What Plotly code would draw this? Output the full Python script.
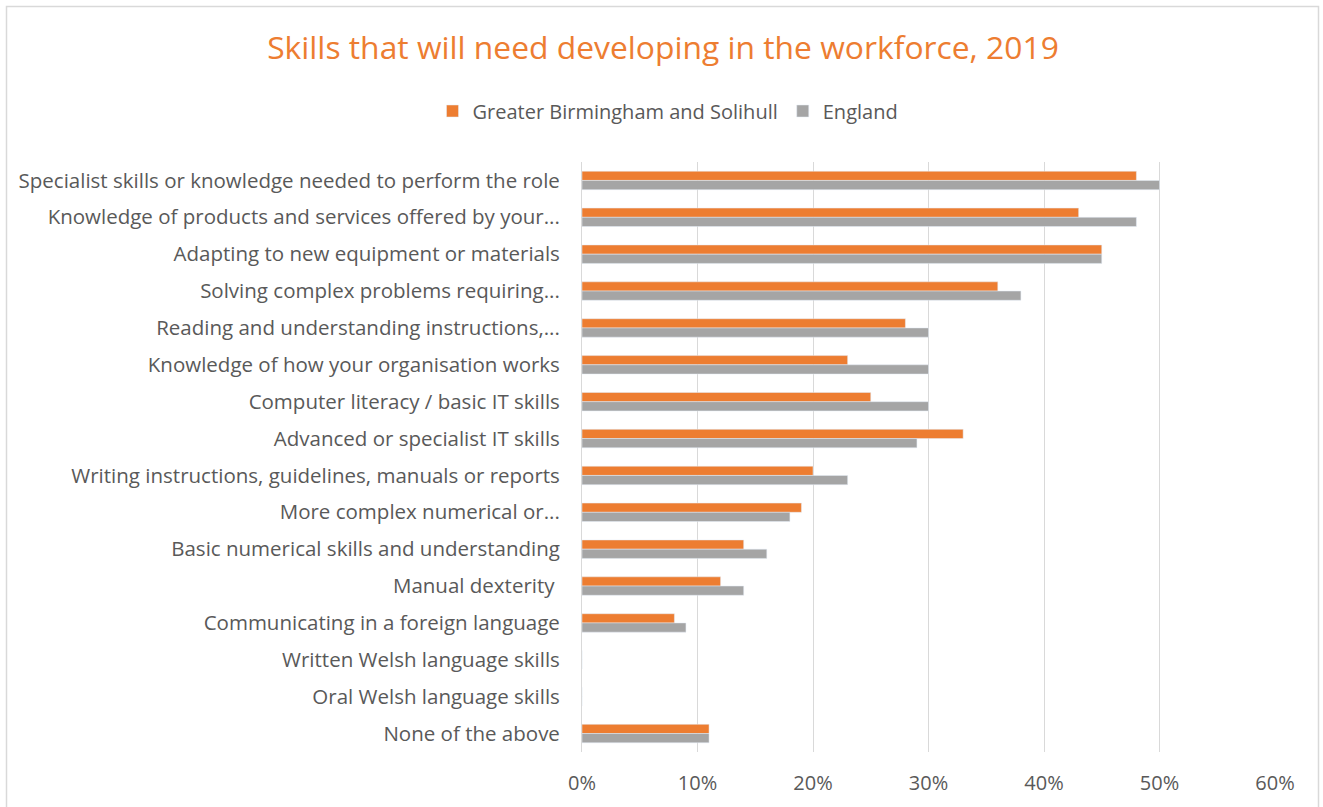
import plotly.graph_objects as go

# Skill categories, top to bottom
categories = [
    "Specialist skills or knowledge needed to perform the role",
    "Knowledge of products and services offered by your...",
    "Adapting to new equipment or materials",
    "Solving complex problems requiring...",
    "Reading and understanding instructions,...",
    "Knowledge of how your organisation works",
    "Computer literacy / basic IT skills",
    "Advanced or specialist IT skills",
    "Writing instructions, guidelines, manuals or reports",
    "More complex numerical or...",
    "Basic numerical skills and understanding",
    "Manual dexterity ",
    "Communicating in a foreign language",
    "Written Welsh language skills",
    "Oral Welsh language skills",
    "None of the above",
]

# Share of employers (fraction)
gbs_values = [0.48, 0.43, 0.45, 0.36, 0.28, 0.23, 0.25, 0.33, 0.20, 0.19, 0.14, 0.12, 0.08, 0.0, 0.0, 0.11]
england_values = [0.50, 0.48, 0.45, 0.38, 0.30, 0.30, 0.30, 0.29, 0.23, 0.18, 0.16, 0.14, 0.09, 0.0, 0.0, 0.11]

x_ticks = [0, 0.1, 0.2, 0.3, 0.4, 0.5, 0.6]
x_tick_labels = ["0%", "10%", "20%", "30%", "40%", "50%", "60%"]

ORANGE = "#ED7D31"
GREY = "#A5A5A5"
TEXT = "#595959"
FONT = "Open Sans"

fig = go.Figure()
fig.add_trace(go.Bar(
    y=categories, x=gbs_values, orientation="h",
    name="Greater Birmingham and Solihull", marker_color=ORANGE,
))
fig.add_trace(go.Bar(
    y=categories, x=england_values, orientation="h",
    name="England", marker_color=GREY,
))

# Plot area in pixels, used to place the outer frame in paper units
W, H = 1323, 807
ML, MR, MT, MB = 582, 48, 162, 55
pw, ph = W - ML - MR, H - MT - MB


def px_to_paper_x(px):
    return (px - ML) / pw


def px_to_paper_y(py):
    return (H - MB - py) / ph


fig.update_layout(
    width=W, height=H,
    margin=dict(l=ML, r=MR, t=MT, b=MB, pad=0),
    paper_bgcolor="white", plot_bgcolor="white",
    font=dict(family=FONT, color=TEXT, size=20),
    title=dict(
        text="Skills that will need developing in the workforce, 2019",
        font=dict(family=FONT, size=31.8, color=ORANGE),
        x=663 / W, xref="container", xanchor="center",
        y=1 - 48 / H, yref="container", yanchor="middle",
    ),
    legend=dict(
        orientation="h", x=668 / W, xref="container", xanchor="center",
        y=1 - 111 / H, yref="container", yanchor="middle",
        font=dict(family=FONT, size=20, color=TEXT),
        traceorder="normal", itemwidth=30,
    ),
    barmode="group",
    bargap=0.5,
    bargroupgap=0,
    xaxis=dict(
        range=[0, 0.6], tickvals=x_ticks, ticktext=x_tick_labels,
        showgrid=True, gridcolor="#D9D9D9", gridwidth=1,
        zeroline=False, showline=False, ticks="",
        tickfont=dict(family=FONT, size=20, color=TEXT),
        ticklabelstandoff=17,
    ),
    yaxis=dict(
        autorange="reversed", showgrid=False, zeroline=False,
        showline=True, linecolor="#D9D9D9", linewidth=1,
        ticks="", ticklabelstandoff=17,
        tickfont=dict(family=FONT, size=20.5, color=TEXT),
    ),
    shapes=[dict(
        type="rect", xref="paper", yref="paper",
        x0=px_to_paper_x(6.5), x1=px_to_paper_x(1318.5),
        y0=px_to_paper_y(815), y1=px_to_paper_y(6.5),
        line=dict(color="#D9D9D9", width=1.5), fillcolor="rgba(0,0,0,0)",
        layer="below",
    )],
)

fig.write_html("out.html")
